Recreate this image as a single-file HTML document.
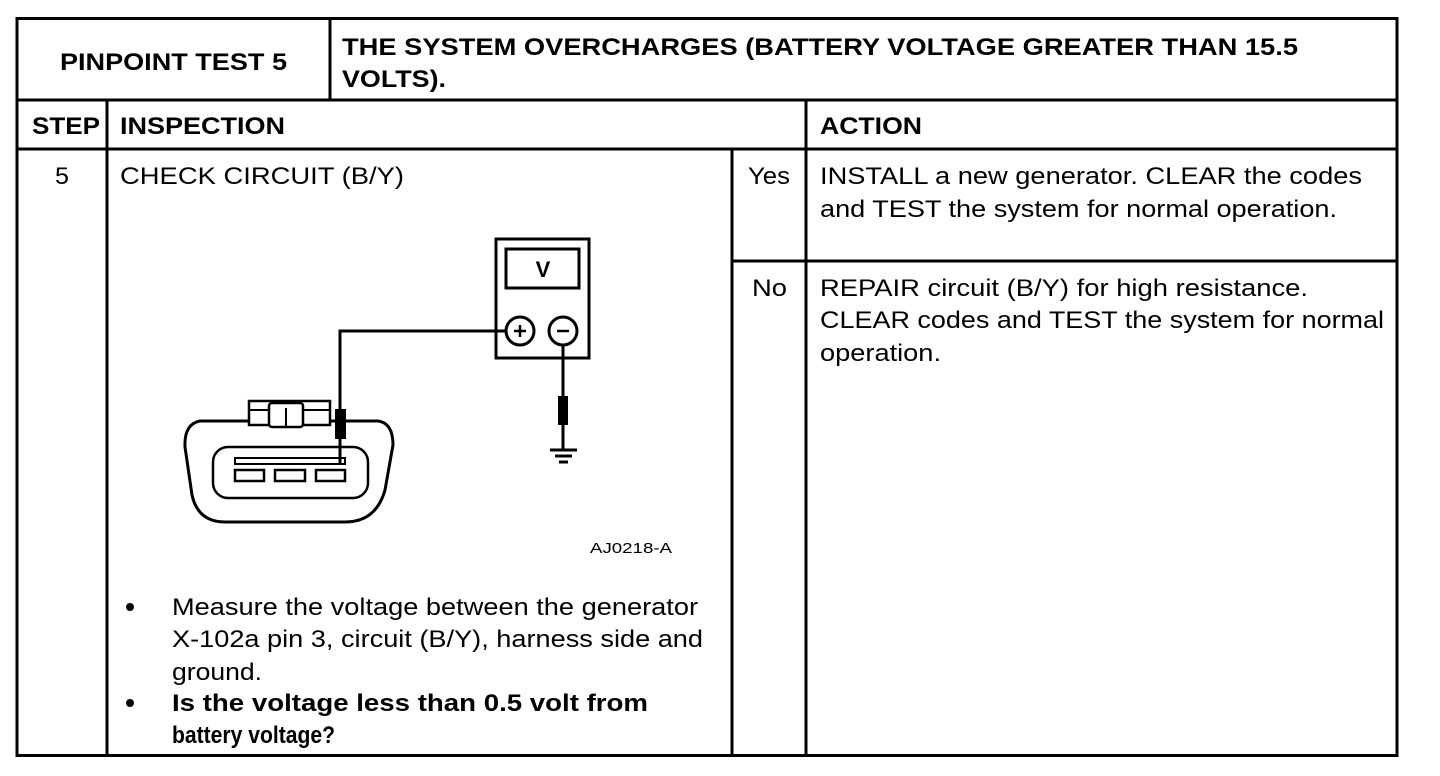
<!DOCTYPE html>
<html><head><meta charset="utf-8"><style>
html,body{margin:0;padding:0;background:#fff;width:1440px;height:776px;overflow:hidden}
svg{display:block}
text{font-family:"Liberation Sans",Arial,sans-serif;fill:#000}
.b{font-weight:bold}
</style></head><body>
<svg width="1440" height="776" viewBox="0 0 1440 776" xmlns="http://www.w3.org/2000/svg">
<g stroke="#000" stroke-width="3" fill="none">
<rect x="17" y="18.5" width="1380" height="737"/>
<line x1="17" y1="100" x2="1397" y2="100"/>
<line x1="330" y1="18" x2="330" y2="100"/>
<line x1="17" y1="149" x2="1397" y2="149"/>
<line x1="107" y1="100" x2="107" y2="756"/>
<line x1="732" y1="149" x2="732" y2="756"/>
<line x1="806" y1="100" x2="806" y2="756"/>
<line x1="732" y1="261" x2="1397" y2="261"/>
</g>
<g font-size="24">
<text class="b" x="60" y="70" textLength="227" lengthAdjust="spacingAndGlyphs">PINPOINT TEST 5</text>
<text class="b" x="342" y="55" textLength="956" lengthAdjust="spacingAndGlyphs">THE SYSTEM OVERCHARGES (BATTERY VOLTAGE GREATER THAN 15.5</text>
<text class="b" x="342" y="87" textLength="104" lengthAdjust="spacingAndGlyphs">VOLTS).</text>
<text class="b" x="32" y="134" textLength="68" lengthAdjust="spacingAndGlyphs">STEP</text>
<text class="b" x="120" y="134" textLength="165" lengthAdjust="spacingAndGlyphs">INSPECTION</text>
<text class="b" x="820" y="134" textLength="102" lengthAdjust="spacingAndGlyphs">ACTION</text>
<text x="55" y="184" textLength="14" lengthAdjust="spacingAndGlyphs">5</text>
<text x="120" y="184" textLength="284" lengthAdjust="spacingAndGlyphs">CHECK CIRCUIT (B/Y)</text>
<text x="748" y="184" textLength="42" lengthAdjust="spacingAndGlyphs">Yes</text>
<text x="820" y="184" textLength="542" lengthAdjust="spacingAndGlyphs">INSTALL a new generator. CLEAR the codes</text>
<text x="820" y="217" textLength="517" lengthAdjust="spacingAndGlyphs">and TEST the system for normal operation.</text>
<text x="752" y="296" textLength="35" lengthAdjust="spacingAndGlyphs">No</text>
<text x="820" y="296" textLength="488" lengthAdjust="spacingAndGlyphs">REPAIR circuit (B/Y) for high resistance.</text>
<text x="820" y="328" textLength="564" lengthAdjust="spacingAndGlyphs">CLEAR codes and TEST the system for normal</text>
<text x="820" y="361" textLength="121" lengthAdjust="spacingAndGlyphs">operation.</text>
<text x="172" y="615" textLength="526" lengthAdjust="spacingAndGlyphs">Measure the voltage between the generator</text>
<text x="172" y="647" textLength="531" lengthAdjust="spacingAndGlyphs">X-102a pin 3, circuit (B/Y), harness side and</text>
<text x="172" y="680" textLength="90" lengthAdjust="spacingAndGlyphs">ground.</text>
<text class="b" x="172" y="711" textLength="476" lengthAdjust="spacingAndGlyphs">Is the voltage less than 0.5 volt from</text>
<text class="b" x="172" y="743" textLength="163" lengthAdjust="spacingAndGlyphs">battery voltage?</text>
</g>
<circle cx="130" cy="607" r="4"/>
<circle cx="130" cy="703" r="4"/>
<text x="590" y="553" font-size="15" textLength="82" lengthAdjust="spacingAndGlyphs">AJ0218-A</text>
<g stroke="#000" fill="none" stroke-width="3">
<rect x="496" y="239" width="93" height="119"/>
<rect x="506" y="249" width="73" height="39"/>
<circle cx="520" cy="331" r="14"/>
<circle cx="563" cy="331" r="14"/>
<polyline points="506,331 340,331 340,410"/>
<line x1="563" y1="345" x2="563" y2="396"/>
<line x1="563" y1="424" x2="563" y2="450"/>
<line x1="550" y1="450" x2="577" y2="450"/>
<line x1="555" y1="456" x2="572" y2="456"/>
<line x1="559" y1="462" x2="568" y2="462"/>
<path d="M200,421 L378,421 Q393,423 393,445 L385,490 Q376,522 345,522 L225,522 Q198,522 192,495 L185,447 Q184,424 200,421 Z" fill="#fff"/>
<rect x="213" y="447" width="155" height="51" rx="15" stroke-width="2.5"/>
<rect x="235" y="458" width="110" height="6" stroke-width="2"/>
<rect x="235" y="470" width="29" height="11" stroke-width="2.5"/>
<rect x="275" y="470" width="30" height="11" stroke-width="2.5"/>
<rect x="316" y="470" width="29" height="11" stroke-width="2.5"/>
<rect x="249" y="401" width="81" height="24" fill="#fff" stroke-width="2.5"/>
<line x1="249" y1="410" x2="330" y2="410" stroke-width="2"/>
<rect x="269" y="403" width="34" height="24" rx="3" fill="#fff" stroke-width="2.5"/>
<line x1="286" y1="408" x2="286" y2="427" stroke-width="2"/>
</g>
<line x1="340" y1="438" x2="340" y2="464" stroke="#000" stroke-width="3"/>
<rect x="335" y="409" width="11" height="30" fill="#000"/>
<rect x="558" y="396" width="10" height="29" fill="#000"/>
<text x="543" y="277" font-size="22" font-weight="bold" text-anchor="middle">V</text>
<line x1="514" y1="331" x2="526" y2="331" stroke="#000" stroke-width="2.5"/>
<line x1="520" y1="325" x2="520" y2="337" stroke="#000" stroke-width="2.5"/>
<line x1="557" y1="331" x2="569" y2="331" stroke="#000" stroke-width="2.5"/>
</svg>
</body></html>
